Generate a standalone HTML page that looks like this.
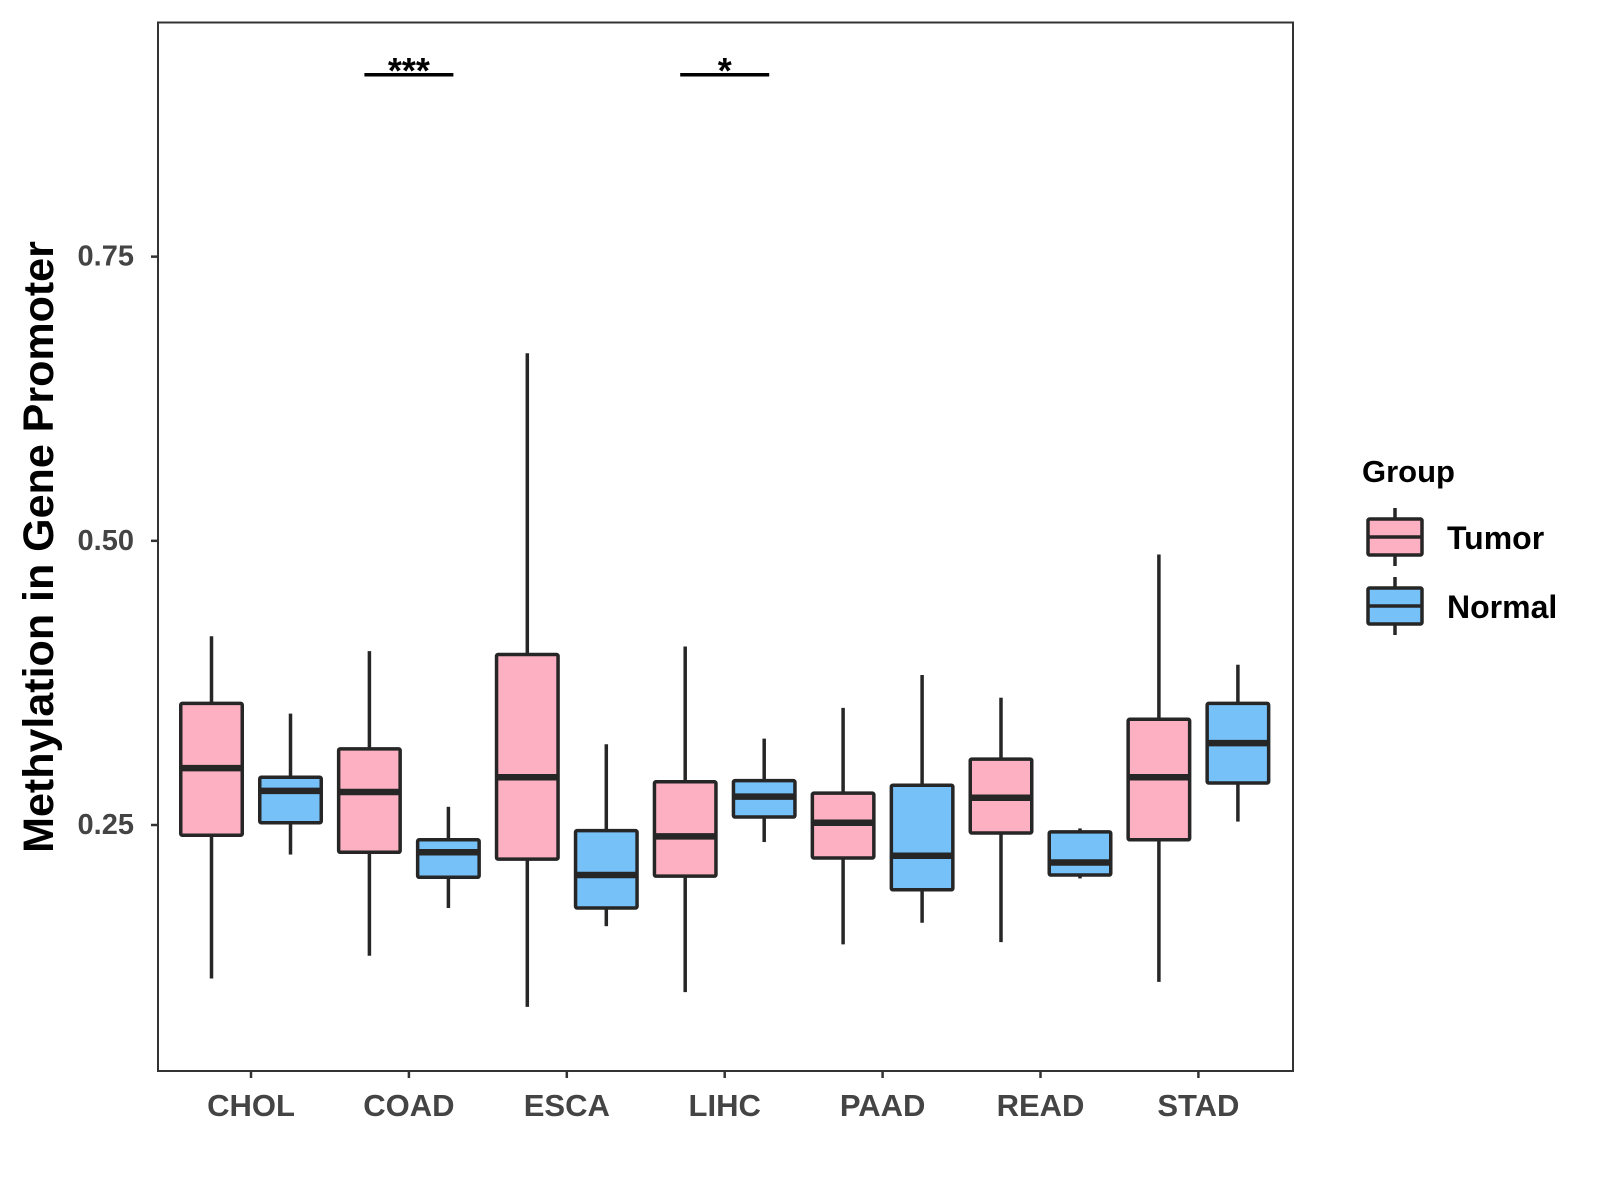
<!DOCTYPE html>
<html><head><meta charset="utf-8"><style>
html,body{margin:0;padding:0;background:#fff;}
svg{display:block;font-family:"Liberation Sans",Arial,sans-serif;font-weight:bold;}
</style></head><body>
<svg id="chart" width="1600" height="1200" viewBox="0 0 1600 1200">
<rect x="0" y="0" width="1600" height="1200" fill="#fff"/>
<g id="marks"></g>
<rect x="158" y="22.5" width="1135" height="1048.5" fill="none" stroke="#333" stroke-width="2"/>
<g id="axes"></g>
<text x="39" y="547" transform="rotate(-90 39 547)" text-anchor="middle" dominant-baseline="central" font-size="43" fill="#000">Methylation in Gene Promoter</text>
<text x="1362" y="482" font-size="31" fill="#000">Group</text>
<g id="legend"></g>
</svg>
<script>
const categories = ["CHOL","COAD","ESCA","LIHC","PAAD","READ","STAD"];
const groups = ["Tumor","Normal"];
// [lowWhisker, q1, median, q3, highWhisker]
const tumorStats = [
  [0.115,0.241,0.300,0.357,0.416],
  [0.135,0.226,0.279,0.317,0.403],
  [0.090,0.220,0.292,0.400,0.665],
  [0.103,0.205,0.240,0.288,0.407],
  [0.145,0.221,0.252,0.278,0.353],
  [0.147,0.243,0.274,0.308,0.362],
  [0.112,0.237,0.292,0.343,0.488]
];
const normalStats = [
  [0.224,0.252,0.280,0.292,0.348],
  [0.177,0.204,0.226,0.237,0.266],
  [0.161,0.177,0.206,0.245,0.321],
  [0.235,0.257,0.275,0.289,0.326],
  [0.164,0.193,0.223,0.285,0.382],
  [0.203,0.206,0.217,0.244,0.247],
  [0.253,0.287,0.322,0.357,0.391]
];
const yTicks = [0.25,0.50,0.75];
const yTickLabels = ["0.25","0.50","0.75"];
const sigCategories = ["COAD","LIHC"];
const sigLabels = ["***","*"];
const sigLevel = 0.910;

const colors = {Tumor:"#FCB0C1", Normal:"#76C1F8"};
const NS = "http://www.w3.org/2000/svg";
function yScale(v){ return 825 - (v - 0.25) * 1136.7; }
function xScale(i){ return 251 + 157.9 * i; }
const dodge = 39.5, boxW = 61.5;
function mk(tag, attrs, parent){
  const e = document.createElementNS(NS, tag);
  for (const k in attrs) e.setAttribute(k, attrs[k]);
  parent.appendChild(e);
  return e;
}
const marks = document.getElementById('marks');
const axes = document.getElementById('axes');
const legend = document.getElementById('legend');
const LC = "#262626";

function drawBox(cx, s, fill, parent, name){
  const g = mk('g', {}, parent);
  
  
  const w1 = mk('line', {x1:cx, x2:cx, y1:yScale(s[4]), y2:yScale(s[3]), stroke:LC, 'stroke-width':3.5}, g);
  
  
  const w2 = mk('line', {x1:cx, x2:cx, y1:yScale(s[1]), y2:yScale(s[0]), stroke:LC, 'stroke-width':3.5}, g);
  
  
  const r = mk('rect', {x:cx-boxW/2, y:yScale(s[3]), width:boxW, height:yScale(s[1])-yScale(s[3]), fill:fill, stroke:LC, 'stroke-width':3.5, rx:1.5}, g);
  
  
  const m = mk('line', {x1:cx-boxW/2, x2:cx+boxW/2, y1:yScale(s[2]), y2:yScale(s[2]), stroke:LC, 'stroke-width':6.5}, g);
  
  
}

categories.forEach((c, i) => {
  const cx = xScale(i);
  drawBox(cx - dodge, tumorStats[i], colors.Tumor, marks, 'box-' + c.toLowerCase() + '-tumor');
  drawBox(cx + dodge, normalStats[i], colors.Normal, marks, 'box-' + c.toLowerCase() + '-normal');
  const t = mk('line', {x1:cx, x2:cx, y1:1071, y2:1078, stroke:"#333", 'stroke-width':2.5}, axes);
  
  
  const l = mk('text', {x:cx, y:1116, 'text-anchor':'middle', 'font-size':31, fill:'#444'}, axes);
  l.textContent = c;
  
  
});

yTicks.forEach((v, i) => {
  const y = yScale(v);
  const t = mk('line', {x1:151, x2:158, y1:y, y2:y, stroke:"#333", 'stroke-width':2.5}, axes);
  
  
  const l = mk('text', {x:134, y:y, 'text-anchor':'end', 'dominant-baseline':'central', 'font-size':29, fill:'#444'}, axes);
  l.textContent = yTickLabels[i];
  
  
});

sigCategories.forEach((c, k) => {
  const i = categories.indexOf(c);
  const cx = xScale(i);
  const y = yScale(sigLevel);
  const b = mk('line', {x1:cx-dodge-5, x2:cx+dodge+5, y1:y, y2:y, stroke:"#000", 'stroke-width':3.5}, marks);
  
  
  const t = mk('text', {x:cx, y:y+8, 'text-anchor':'middle', 'font-size':36, fill:'#000'}, marks);
  t.textContent = sigLabels[k];
  
  
});

groups.forEach((gname, k) => {
  const top = 519 + k * 69;
  const cx = 1395;
  const g = mk('g', {}, legend);
  
  
  mk('line', {x1:cx, x2:cx, y1:top-11, y2:top+47, stroke:LC, 'stroke-width':3.5}, g);
  mk('rect', {x:1368, y:top, width:54, height:36, fill:colors[gname], stroke:LC, 'stroke-width':3.5, rx:1.5}, g);
  mk('line', {x1:1368, x2:1422, y1:top+18, y2:top+18, stroke:LC, 'stroke-width':3.5}, g);
  const t = mk('text', {x:1447, y:top+30, 'font-size':32, fill:'#000'}, g);
  t.textContent = gname;
  
  
});
</script>
</body></html>
